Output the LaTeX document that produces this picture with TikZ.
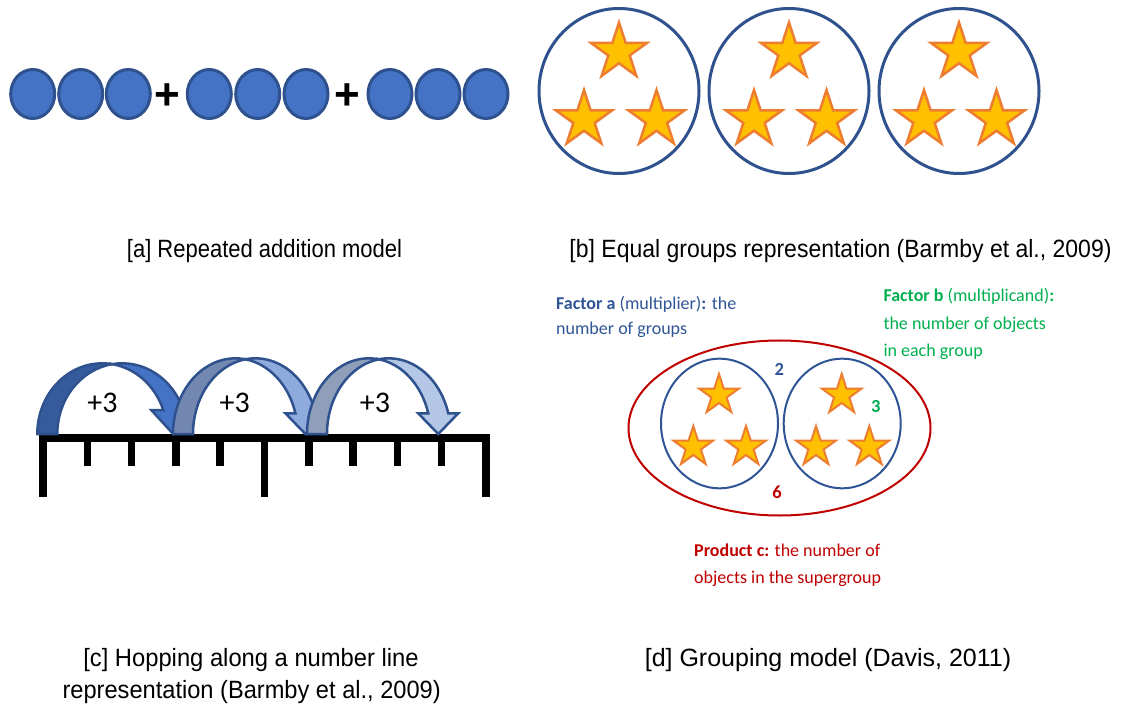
\documentclass[tikz,border=0pt]{standalone}
\usepackage{fontspec}
\usepackage{graphicx}
\setmainfont{Liberation Sans}
\newfontfamily\calib{Carlito}
\usetikzlibrary{shapes.geometric}

\definecolor{dotfill}{HTML}{4472C4}
\definecolor{dotline}{HTML}{2F528F}
\definecolor{starfill}{HTML}{FFC000}
\definecolor{starline}{HTML}{ED7D31}
\definecolor{ringblue}{HTML}{2F5597}
\definecolor{superred}{HTML}{C00000}
\definecolor{factgreen}{HTML}{00B050}
\definecolor{hopA}{HTML}{4472C4}
\definecolor{hopAback}{HTML}{365B9D}
\definecolor{hopB}{HTML}{8FAADC}
\definecolor{hopBback}{HTML}{7288B0}
\definecolor{hopC}{HTML}{B4C7E7}
\definecolor{hopCback}{HTML}{909FB9}

% curved hop arrow: #1 centre of left ellipse, #2 x radius, #3 height,
% #4 band thickness, #5 height of the head base, #6 wing overhang,
% #7 front colour, #8 back colour
\newcommand{\hoparrow}[8]{%
  \begin{scope}[shift={(0,434)}, yscale=-1]
    \pgfmathsetmacro{\angA}{acos(#4/(2*#2))}
    \pgfmathsetmacro{\angB}{180-\angA}
    \pgfmathsetmacro{\yint}{#3*sin(\angA)}
    \pgfmathsetmacro{\angH}{asin(#5/#3)}
    \pgfmathsetmacro{\xin}{#1+#2*cos(\angH)}
    \pgfmathsetmacro{\xout}{\xin+#4}
    \pgfmathsetmacro{\xtip}{\xin+#4/2}
    % rising back of the band
    \filldraw[hopline, fill=#8] (#1-#2,0)
      arc[start angle=180, end angle=\angA, x radius=#2, y radius=#3]
      arc[start angle=\angB, end angle=180, x radius=#2, y radius=#3] -- cycle;
    % falling front of the band with its head
    \filldraw[hopline, fill=#7] (#1+#4/2,\yint)
      arc[start angle=\angB, end angle=\angH, x radius=#2, y radius=#3]
      -- (\xout+#6,#5) -- (\xtip,0) -- (\xin-#6,#5) -- (\xin,#5)
      arc[start angle=\angH, end angle=\angA, x radius=#2, y radius=#3] -- cycle;
  \end{scope}}

\begin{document}
\begin{tikzpicture}[x=1pt, y=-1pt,
  dot/.style={ellipse, draw=dotline, fill=dotfill, line width=3pt,
    minimum width=44pt, minimum height=49pt, inner sep=0pt},
  plussign/.style={font=\bfseries\fontsize{44}{44}\selectfont, inner sep=0pt, anchor=base},
  groupring/.style={ellipse, draw=dotline, line width=3pt,
    minimum width=160pt, minimum height=165pt, inner sep=0pt},
  bigstar/.style={star, star points=5, star point ratio=2.618, inner sep=0pt,
    minimum size=59pt, draw=starline, fill=starfill, line width=2.5pt},
  smallstar/.style={star, star points=5, star point ratio=2.618, inner sep=0pt,
    minimum size=42pt, draw=starline, fill=starfill, line width=2pt},
  caption/.style={font=\fontsize{25}{30}\selectfont, inner sep=0pt, anchor=base},
  hopline/.style={draw=dotline, line width=2.5pt, line join=miter},
  hoplabel/.style={font=\calib\fontsize{30}{36}\selectfont, inner sep=0pt},
  tickline/.style={line width=7.5pt, line cap=butt, black},
  smallring/.style={ellipse, draw=ringblue, line width=2pt,
    minimum width=117pt, minimum height=129.6pt, inner sep=0pt},
  note/.style={font=\calib\fontsize{18}{27}\selectfont, inner sep=0pt, anchor=base west},
  countlabel/.style={font=\calib\bfseries\fontsize{18.5}{22}\selectfont, inner sep=0pt},
]
\fill[white] (0,0) rectangle (1140,708);
\useasboundingbox (0,0) rectangle (1140,708);

% ---------- [a] repeated addition ----------
\foreach \x [count=\i] in {32.7,80.7,128.3,209.3,257.7,306,390,438,486}
  \node[dot] (d\i) at (\x,94) {};
\node[plussign] (plusA) at (167.3,109.6) {+};
\node[plussign] (plusB) at (347.7,109.6) {+};
\node[caption] (capA) at (264.5,257.5) {\scalebox{0.88}[1]{[a] Repeated addition model}};

% ---------- [b] equal groups ----------
\foreach \cx [count=\i] in {619,789,959} {
  \node[groupring] (ring\i) at (\cx,91) {};
  \node[bigstar] (top\i) at (\cx,52) {};
  \node[bigstar] (left\i) at (\cx-35,119.5) {};
  \node[bigstar] (right\i) at (\cx+37.5,119.5) {};
}
\node[caption] (capB) at (840.5,257.5) {\scalebox{0.92}[1]{[b] Equal groups representation (Barmby et al., 2009)}};

% ---------- [c] number line hops ----------
\draw[tickline] (39.3,438) -- (490,438);
\foreach \x in {43,264.5,486}
  \draw[tickline] (\x,434.3) -- (\x,496.7);
\foreach \k in {1,2,3,4,6,7,8,9}
  \draw[tickline] (43+44.3*\k,438) -- (43+44.3*\k,466);

\hoparrow{102.2}{64.9}{70.7}{20}{24}{12}{hopA}{hopAback}
\hoparrow{235.4}{62.4}{75.7}{20}{20.7}{10}{hopB}{hopBback}
\hoparrow{368.8}{61.8}{75.7}{20}{20.7}{10}{hopC}{hopCback}

\node[hoplabel] (hop1) at (102.5,403) {+3};
\node[hoplabel] (hop2) at (234.7,403) {+3};
\node[hoplabel] (hop3) at (375,403) {+3};

\node[caption] (capC1) at (251,666.7) {\scalebox{0.95}[1]{[c] Hopping along a number line}};
\node[caption] (capC2) at (251.7,698.3) {\scalebox{0.945}[1]{representation (Barmby et al., 2009)}};

% ---------- [d] grouping model ----------
\node[ellipse, draw=superred, line width=2pt, minimum width=302pt,
  minimum height=175pt, inner sep=0pt] (super) at (779.5,428) {};
\node[smallring] (g1) at (719.5,423.5) {};
\node[smallring] (g2) at (842.2,423.5) {};
\node[smallstar] (s1) at (719,395) {};
\node[smallstar] (s2) at (693.3,447) {};
\node[smallstar] (s3) at (746,447) {};
\node[smallstar] (s4) at (841.7,395) {};
\node[smallstar] (s5) at (816,447) {};
\node[smallstar] (s6) at (869.3,447) {};

\node[countlabel, ringblue] (two) at (779.3,369.3) {2};
\node[countlabel, factgreen] (three) at (875.7,406) {3};
\node[countlabel, superred] (six) at (777,492.3) {6};

\node[note, ringblue] (fa1) at (556,309.3) {\textbf{Factor a} (multiplier)\textbf{:} the};
\node[note, ringblue] (fa2) at (556,335) {number of groups};
\node[note, factgreen] (fb1) at (883.3,301.7) {\textbf{Factor b} (multiplicand)\textbf{:}};
\node[note, factgreen] (fb2) at (883.3,329.3) {the number of objects};
\node[note, factgreen] (fb3) at (883.3,356) {in each group};
\node[note, superred] (pc1) at (694,556.7) {\textbf{Product c:} the number of};
\node[note, superred] (pc2) at (694,583.3) {objects in the supergroup};

\node[caption] (capD) at (828,666.7) {\scalebox{1.0}[1]{[d] Grouping model (Davis, 2011)}};
\end{tikzpicture}
\end{document}
